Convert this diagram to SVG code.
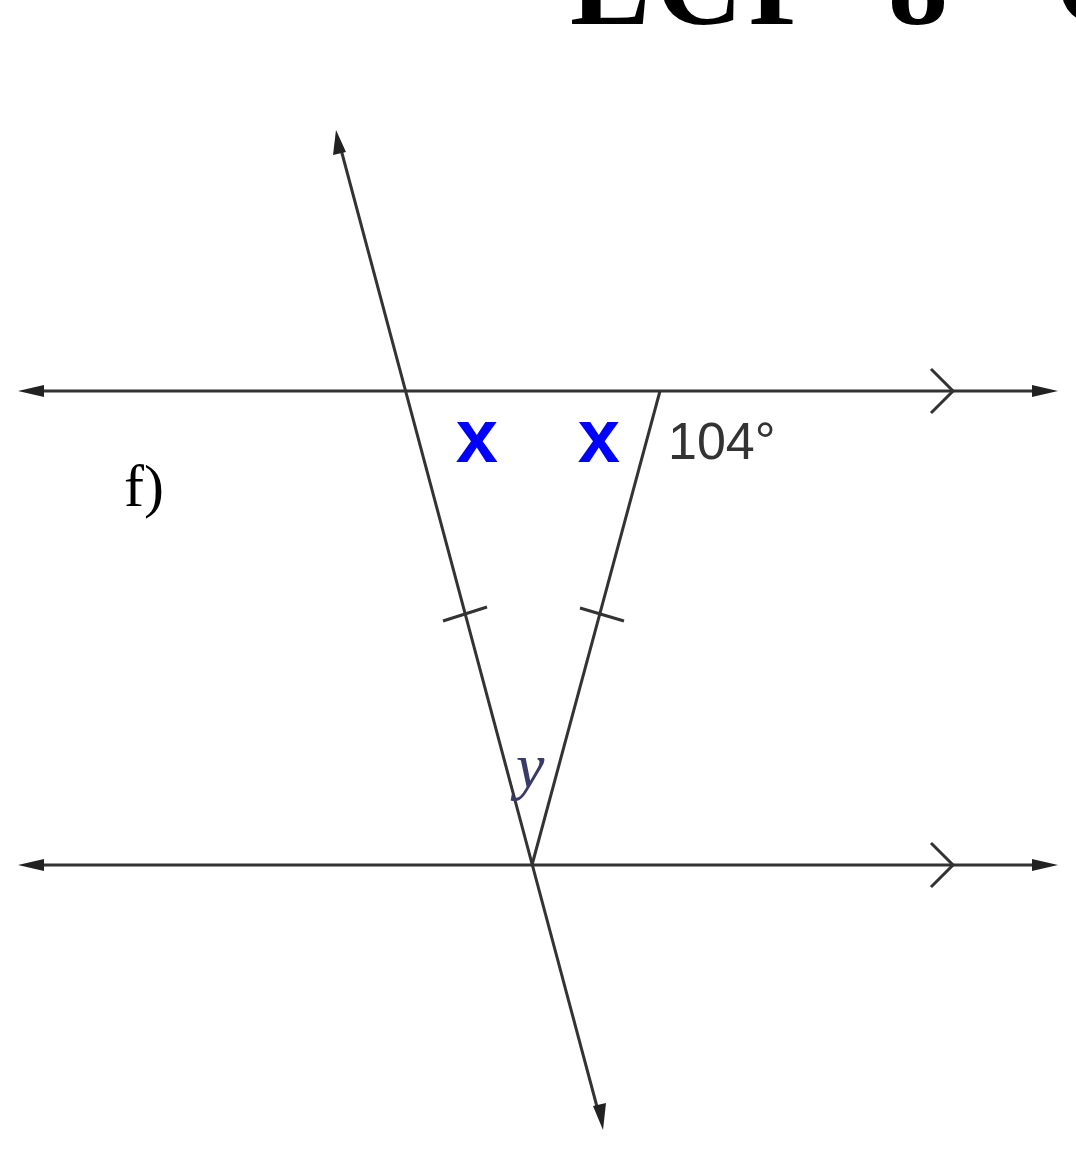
<svg xmlns="http://www.w3.org/2000/svg" width="1076" height="1156" viewBox="0 0 1076 1156">
<style>
.ln{stroke:#333;stroke-width:3;fill:none}
.chev{stroke:#333;stroke-width:3;fill:none;stroke-linejoin:miter}
.ah{fill:#222}
.bx{font-family:"Liberation Sans",Arial,sans-serif;font-weight:bold;font-size:76px;fill:#0000ff}
.hd{font-family:"Liberation Serif",serif;font-weight:bold;font-size:120px;fill:#000}
</style>
<rect width="1076" height="1156" fill="#fff"/>
<g id="heading">
<text class="hd" x="570" y="24" letter-spacing="6">LCP</text>
<text class="hd" x="888" y="24">8</text>
<text class="hd" x="1055" y="24">C</text>
</g>
<g id="connectors">
<line class="ln" x1="30" y1="391" x2="1046" y2="391"/>
<polygon class="ah" points="18,391 44,385 44,397"/>
<polygon class="ah" points="1058,391 1032,385 1032,397"/>
<polyline class="chev" points="931,369 953,391 931,413"/>
<line class="ln" x1="30" y1="865" x2="1046" y2="865"/>
<polygon class="ah" points="18,865 44,859 44,871"/>
<polygon class="ah" points="1058,865 1032,859 1032,871"/>
<polyline class="chev" points="931,843 953,865 931,887"/>
<line class="ln" x1="339" y1="142" x2="600" y2="1118"/>
<polygon class="ah" points="336,130 333,155 346,152"/>
<polygon class="ah" points="603,1130 593,1106 606,1103"/>
<line class="ln" x1="660" y1="391" x2="532" y2="865"/>
<line class="ln" x1="443" y1="621" x2="487" y2="607"/>
<line class="ln" x1="580" y1="608" x2="624" y2="621"/>
</g>
<g id="label-x1"><text class="bx" x="477" y="462" text-anchor="middle">x</text></g>
<g id="label-x2"><text class="bx" x="599" y="462" text-anchor="middle">x</text></g>
<g id="label-104"><text x="668" y="459" font-family="Liberation Sans,Arial,sans-serif" font-size="52px" fill="#333">104°</text></g>
<g id="label-y"><text x="516" y="787" font-family="Liberation Serif,serif" font-style="italic" font-size="64px" fill="#3a3a6a">y</text></g>
<g id="label-f"><text x="124" y="506" font-family="Liberation Serif,serif" font-size="60px" fill="#000">f)</text></g>
</svg>
